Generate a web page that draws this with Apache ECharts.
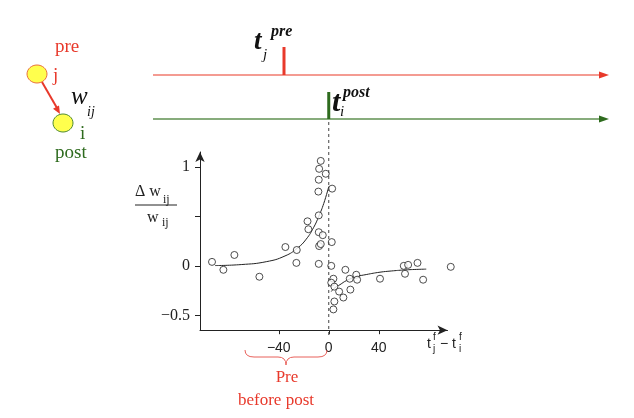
<!DOCTYPE html>
<html>
<head>
<meta charset="utf-8">
<script src="https://cdn.jsdelivr.net/npm/echarts@6/dist/echarts.min.js"></script>
<style>
  html, body { margin: 0; padding: 0; background: #fff; }
  #chart { width: 634px; height: 418px; }
</style>
</head>
<body>
<div id="chart"></div>
<script>
// measured points: [t_j - t_i (ms), dw/w]
const points = [
  [-93.4, 0.04], [-84.3, -0.04], [-75.5, 0.11], [-55.5, -0.11], [-34.7, 0.19],
  [-25.6, 0.16], [-25.9, 0.03], [-17, 0.45], [-16.3, 0.37], [-8, 0.51],
  [-8, 0.34], [-4.8, 0.31], [-7.7, 0.2], [-6.4, 0.22], [-8, 0.02],
  [-6.4, 1.06], [-7.7, 0.98], [-2.4, 0.93], [-8, 0.87], [-8.3, 0.75],
  [2.7, 0.78], [2.4, 0.24], [2, 0.0],
  [13.3, -0.04], [3.7, -0.13], [2, -0.17], [4.5, -0.21], [8.3, -0.26], [11.7, -0.32],
  [4.5, -0.36], [3.7, -0.44], [17.3, -0.24], [16.8, -0.13], [22, -0.09],
  [22.7, -0.14], [41, -0.13], [61, -0.08], [60, 0.0], [63.5, 0.01],
  [71, 0.03], [75.5, -0.14], [97.6, -0.01]
];
// fitted curves
const ltpCurve = [
  [-91, 0.003], [-70, 0.013], [-50, 0.042], [-35, 0.1], [-25, 0.18],
  [-18, 0.27], [-12, 0.39], [-8, 0.5], [-4, 0.63], [0, 0.8]
];
const ltdCurve = [
  [2, -0.26], [5, -0.22], [9, -0.19], [14, -0.15], [22, -0.11], [30, -0.088],
  [41, -0.064], [50, -0.052], [60, -0.042], [70, -0.036], [78, -0.033]
];
const xTicks = [-40, 0, 40];
const yTicks = [-0.5, 0, 0.5, 1];
const yLabels = [-0.5, 0, 1];

const xMin = -103, xMax = 95, yMin = -0.65, yMax = 1.15;
const ink = '#222';
const red = '#e8392b';
const green = '#2e6b1e';
const serif = 'Liberation Serif';
const sans = 'Liberation Sans';
const minus = v => (v < 0 ? '\u2212' + (-v) : String(v));

const chart = echarts.init(document.getElementById('chart'));
chart.setOption({
  animation: false,
  grid: { left: 200, top: 152, width: 247.5, height: 178.2 },
  xAxis: {
    type: 'value', min: xMin, max: xMax,
    axisLine: { onZero: false, symbol: ['none', 'arrow'], symbolSize: [7, 10], lineStyle: { color: ink, width: 1 } },
    axisTick: { customValues: xTicks, length: 4, lineStyle: { color: ink } },
    axisLabel: { customValues: xTicks, formatter: minus, margin: 11, color: ink, fontFamily: sans, fontSize: 14 },
    splitLine: { show: false }
  },
  yAxis: {
    type: 'value', min: yMin, max: yMax,
    axisLine: { show: true, onZero: false, symbol: ['none', 'arrow'], symbolSize: [7, 10], lineStyle: { color: ink, width: 1 } },
    axisTick: { show: true, customValues: yTicks, length: 5, lineStyle: { color: ink } },
    axisLabel: { customValues: yLabels, formatter: minus, margin: 10, color: ink, fontFamily: serif, fontSize: 16 },
    splitLine: { show: false }
  },
  series: [
    {
      type: 'line', data: ltpCurve, smooth: true, symbol: 'none',
      lineStyle: { color: ink, width: 1 }, z: 2
    },
    {
      type: 'line', data: ltdCurve, smooth: true, symbol: 'none',
      lineStyle: { color: ink, width: 1 }, z: 2
    },
    {
      type: 'scatter', data: points, symbol: 'circle', symbolSize: 7, clip: false,
      itemStyle: { color: '#fff', borderColor: ink, borderWidth: 1 }, z: 3,
      markLine: {
        silent: true, symbol: 'none', label: { show: false },
        lineStyle: { color: ink, width: 1, type: 'solid' },
        data: [[{ coord: [xMin, 0] }, { coord: [97.6, 0] }]]
      }
    }
  ]
});

const x0 = chart.convertToPixel({ xAxisIndex: 0 }, 0);

function txt(x, y, s, font, fill, align) {
  return {
    type: 'text', x: x, y: y, z: 10,
    style: { text: s, font: font, fill: fill || ink, textAlign: align || 'left', textVerticalAlign: 'middle' }
  };
}
function line(x1, y1, x2, y2, stroke, w, dash) {
  return {
    type: 'line', z: 5,
    shape: { x1: x1, y1: y1, x2: x2, y2: y2 },
    style: { stroke: stroke, lineWidth: w, lineDash: dash || null }
  };
}
function curve(x1, y1, cx, cy, x2, y2, stroke) {
  return {
    type: 'bezierCurve', z: 5,
    shape: { x1: x1, y1: y1, cpx1: cx, cpy1: cy, x2: x2, y2: y2 },
    style: { stroke: stroke, lineWidth: 1, fill: null }
  };
}
function tri(pts, fill) {
  return { type: 'polygon', z: 6, shape: { points: pts }, style: { fill: fill } };
}

const brace = '#e8605a';
chart.setOption({
  graphic: [
    // timelines
    line(153, 75, 603, 75, '#f07a6e', 1.5),
    tri([[599, 71.5], [609, 75], [599, 78.5]], red),
    line(284, 47, 284, 75, red, 3),
    line(153, 119, 603, 119, '#5f9150', 1.5),
    tri([[599, 115.5], [609, 119], [599, 122.5]], green),
    line(x0, 92, x0, 119, green, 3),
    line(x0, 122, x0, 338, '#444', 1, [3, 3]),

    txt(254, 42, 't', 'italic bold 27px ' + serif, '#111'),
    txt(271, 32, 'pre', 'italic bold 16px ' + serif, '#111'),
    txt(263, 55, 'j', 'italic 15px ' + serif, '#111'),
    txt(332, 103, 't', 'italic bold 30px ' + serif, '#111'),
    txt(343, 93, 'post', 'italic bold 16px ' + serif, '#111'),
    txt(340, 112, 'i', 'italic 15px ' + serif, '#111'),

    // neuron sketch
    { type: 'ellipse', z: 5, shape: { cx: 37, cy: 74, rx: 10, ry: 9 }, style: { fill: '#ffff4d', stroke: '#e8703a', lineWidth: 1 } },
    { type: 'ellipse', z: 5, shape: { cx: 63, cy: 123, rx: 10, ry: 9 }, style: { fill: '#ffff4d', stroke: '#4f8a2e', lineWidth: 1 } },
    line(42, 82, 57, 108, red, 2),
    tri([[60, 114], [59, 105.4], [53, 108.8]], red),
    txt(55, 47, 'pre', '19px ' + serif, red),
    txt(53, 76, 'j', '19px ' + serif, red),
    txt(71, 97, 'w', 'italic 25px ' + serif, '#111'),
    txt(87, 112, 'ij', 'italic 14px ' + serif, '#111'),
    txt(80, 134, 'i', '19px ' + serif, green),
    txt(55, 153, 'post', '19px ' + serif, green),

    // y name fraction
    txt(135, 192, '\u0394 w', '16px ' + serif),
    txt(163, 200, 'ij', '12px ' + serif),
    line(135, 205, 177, 205, ink, 1),
    txt(147, 218, 'w', '16px ' + serif),
    txt(162, 223, 'ij', '12px ' + serif),

    // x name
    txt(427, 344, 't', '14px ' + sans),
    txt(433, 337, 'f', '10px ' + sans),
    txt(433, 349, 'j', '10px ' + sans),
    txt(440, 344, '\u2212', '14px ' + sans),
    txt(452, 344, 't', '14px ' + sans),
    txt(459, 337, 'f', '10px ' + sans),
    txt(459, 349, 'i', '10px ' + sans),

    // brace + caption
    curve(245, 350, 245, 357, 254, 357, brace),
    line(254, 357, 278, 357, brace, 1),
    curve(278, 357, 286, 357, 286, 365, brace),
    curve(286, 365, 286, 357, 294, 357, brace),
    line(294, 357, 318, 357, brace, 1),
    curve(318, 357, 327, 357, 327, 350, brace),
    txt(287, 378, 'Pre', '17px ' + serif, red, 'center'),
    txt(276, 401, 'before post', '17px ' + serif, red, 'center')
  ]
});
</script>
</body>
</html>
